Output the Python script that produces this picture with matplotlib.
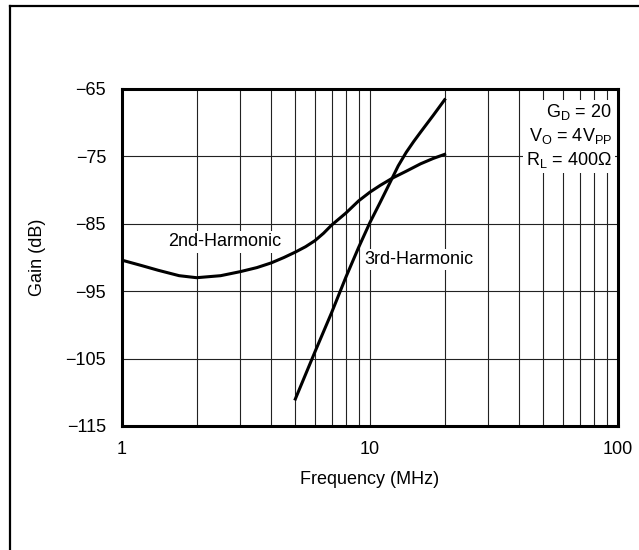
import matplotlib
import numpy as np
import matplotlib.pyplot as plt
from matplotlib.lines import Line2D

matplotlib.use('Agg')
plt.rcParams['font.family'] = ['Liberation Sans', 'DejaVu Sans']

# 2nd harmonic distortion
f2 = [1, 1.2, 1.4, 1.7, 2, 2.5, 3, 3.5, 4, 4.5, 5, 5.5, 6, 6.5, 7, 8, 9, 10,
      11, 12.35, 14, 16, 18, 20]
h2 = [-90.4, -91.2, -91.9, -92.7, -93.0, -92.7, -92.1, -91.5, -90.8, -90.0,
      -89.2, -88.4, -87.5, -86.4, -85.2, -83.4, -81.6, -80.3, -79.3, -78.2,
      -77.2, -76.1, -75.3, -74.7]

# 3rd harmonic distortion
f3 = [5, 6, 7, 8, 9, 10, 11, 12, 13, 14, 15, 16, 18, 20]
h3 = [-111.0, -104.0, -98.2, -92.9, -88.5, -84.8, -81.8, -79.0, -76.4, -74.4,
      -72.8, -71.4, -68.9, -66.6]

yticks = [-115, -105, -95, -85, -75, -65]
xticks = [1, 10, 100]
xticklabels = ['1', '10', '100']

FS = 13

fig = plt.figure(figsize=(6.39, 5.50), dpi=100)
ax = fig.add_axes([0.1909, 0.2255, 0.7762, 0.6127])

ax.plot(f2, h2, color='black', lw=2.2, zorder=3)
ax.plot(f3, h3, color='black', lw=2.2, zorder=3)

ax.set_xscale('log')
ax.set_xlim(1, 100)
ax.set_ylim(-115, -65)
ax.set_xticks(xticks)
ax.set_xticklabels(xticklabels)
ax.set_yticks(yticks)
ax.set_yticklabels([str(v).replace('-', '\u2212') for v in yticks])
ax.tick_params(which='both', length=0, labelsize=FS)
ax.tick_params(axis='y', pad=11.5)
ax.tick_params(axis='x', pad=10.5)
ax.grid(True, which='both', color='#222222', lw=0.8)
for s in ax.spines.values():
    s.set_linewidth(2.2)

ax.set_xlabel('Frequency (MHz)', fontsize=FS, labelpad=10)
ax.set_ylabel('Gain (dB)', fontsize=FS, labelpad=14)

box = dict(facecolor='white', edgecolor='none', pad=1.5)
ax.text(1.537, -87.7, '2nd-Harmonic', fontsize=FS, va='center', ha='left',
        bbox=box, zorder=2)
ax.text(9.45, -90.3, '3rd-Harmonic', fontsize=FS, va='center', ha='left',
        bbox=box, zorder=2)
ax.text(0.988, 0.96,
        '$\\mathregular{G_D}$ = 20\n$\\mathregular{V_O}$ = 4V$\\mathregular{_{PP}}$\n$\\mathregular{R_L}$ = 400\u03a9',
        transform=ax.transAxes, fontsize=FS, ha='right', va='top',
        linespacing=1.25, bbox=dict(facecolor='white', edgecolor='none', pad=2),
        zorder=4)

# outer frame (top and left edges)
fig.add_artist(Line2D([10 / 639, 1], [1 - 6 / 550, 1 - 6 / 550],
                      transform=fig.transFigure, color='black', lw=1.6))
fig.add_artist(Line2D([10 / 639, 10 / 639], [0, 1 - 6 / 550],
                      transform=fig.transFigure, color='black', lw=1.6))

fig.savefig('out.png', dpi=100)
